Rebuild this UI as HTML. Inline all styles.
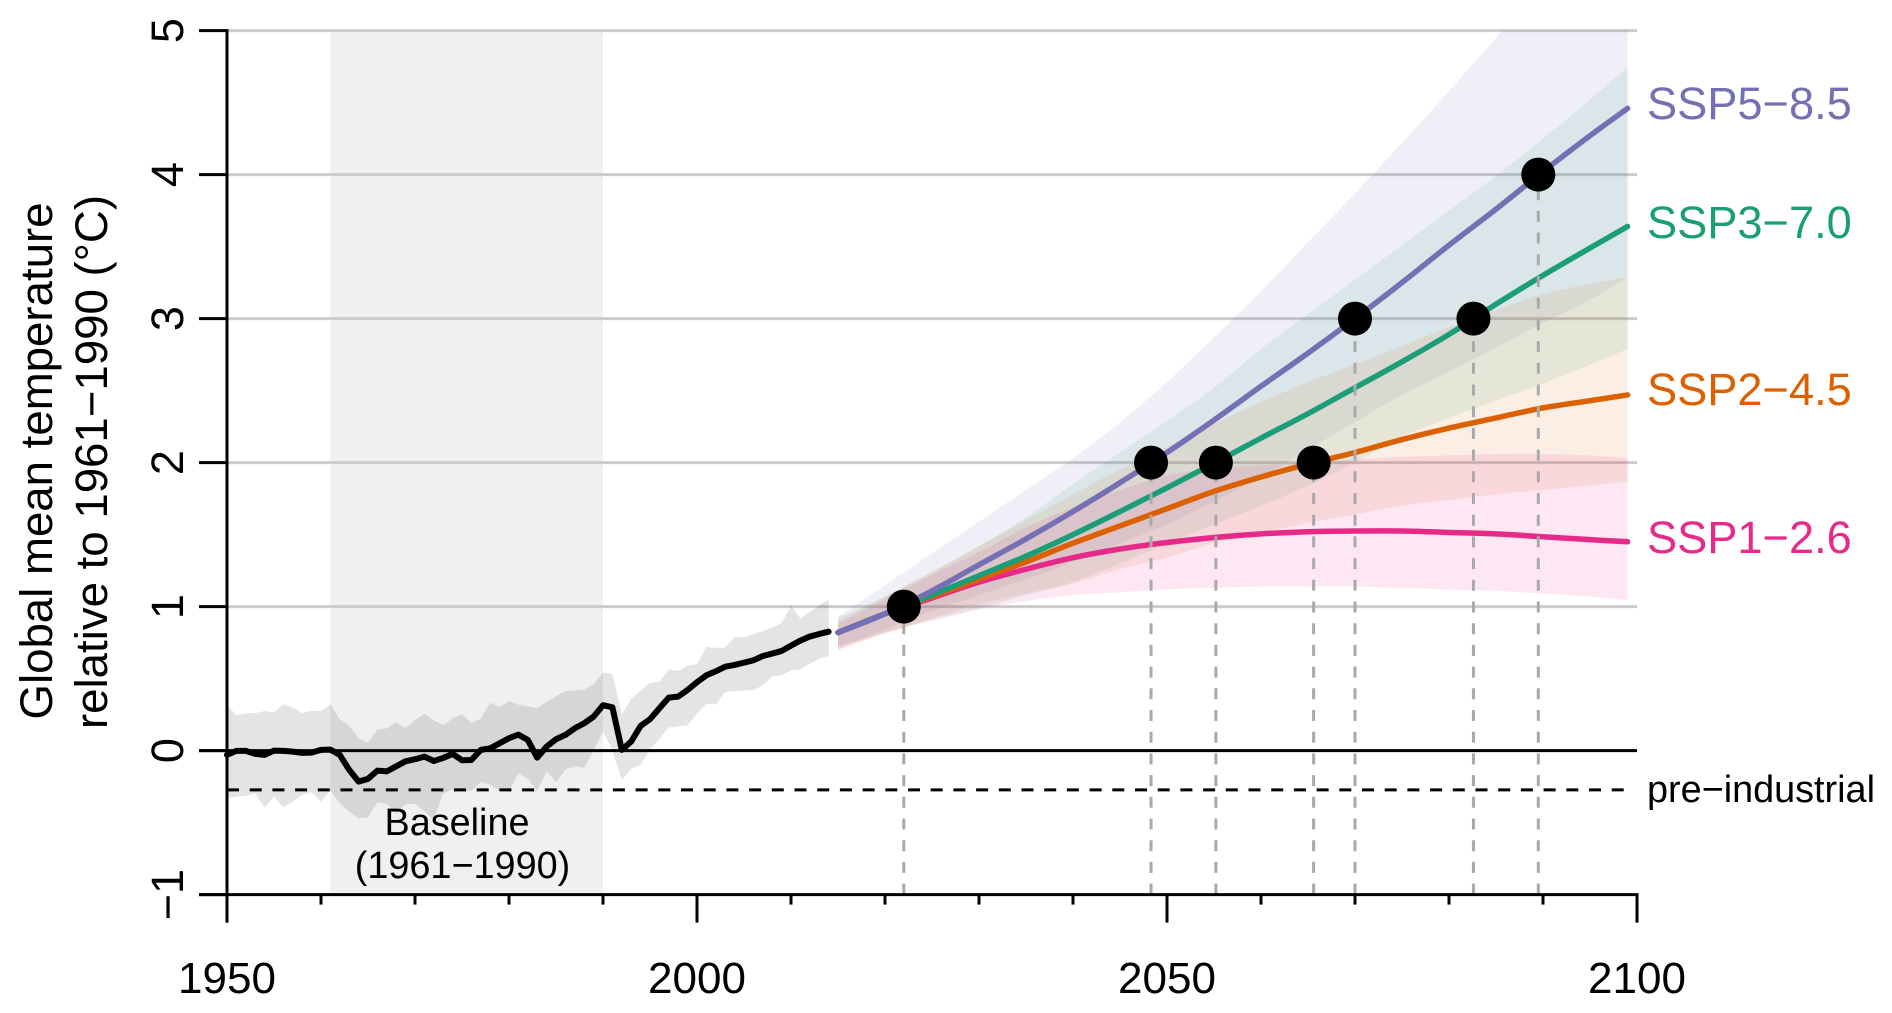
<!DOCTYPE html>
<html lang="en">
<head>
<meta charset="utf-8">
<title>Global mean temperature projections</title>
<style>
html,body{margin:0;padding:0;background:#fff;}
svg{display:block;font-family:"Liberation Sans",Arial,sans-serif;}
</style>
</head>
<body>
<svg id="chart" xmlns="http://www.w3.org/2000/svg" width="1892" height="1013" viewBox="0 0 1892 1013">
  <defs><clipPath id="plot-clip"><rect x="227" y="30" width="1411" height="865"/></clipPath></defs>
</svg>
<script>
// ---------- data ----------
const histStart = 1950;
const histMean = [-0.03,-0.002,-0.002,-0.023,-0.03,0,-0.002,-0.007,-0.016,-0.014,0.005,0.007,-0.03,-0.134,-0.215,-0.196,-0.139,-0.144,-0.109,-0.074,-0.06,-0.042,-0.072,-0.051,-0.023,-0.067,-0.065,0.005,0.016,0.051,0.086,0.111,0.074,-0.049,0.028,0.079,0.109,0.155,0.19,0.236,0.315,0.301,0.005,0.063,0.171,0.218,0.294,0.368,0.375,0.421,0.475,0.523,0.551,0.583,0.595,0.611,0.627,0.657,0.674,0.692,0.729,0.764,0.792,0.81,0.826];
const histUpper = [0.32,0.245,0.26,0.26,0.275,0.266,0.32,0.30,0.26,0.278,0.273,0.32,0.218,0.174,0.086,0.056,0.144,0.155,0.197,0.155,0.213,0.255,0.208,0.178,0.225,0.255,0.194,0.222,0.333,0.30,0.345,0.319,0.308,0.294,0.338,0.377,0.414,0.419,0.424,0.461,0.54,0.535,0.252,0.361,0.414,0.47,0.477,0.565,0.553,0.59,0.60,0.72,0.713,0.715,0.789,0.785,0.81,0.831,0.854,0.887,1.005,0.917,0.963,1.009,1.05];
const histLower = [-0.331,-0.32,-0.315,-0.296,-0.396,-0.32,-0.394,-0.354,-0.308,-0.29,-0.354,-0.278,-0.366,-0.424,-0.47,-0.463,-0.359,-0.37,-0.44,-0.37,-0.37,-0.42,-0.48,-0.30,-0.27,-0.28,-0.28,-0.218,-0.24,-0.275,-0.287,-0.16,-0.194,-0.282,-0.144,-0.218,-0.13,-0.109,-0.12,0,0.13,0.002,-0.206,-0.125,-0.10,0.007,0.083,0.16,0.169,0.176,0.257,0.326,0.322,0.407,0.412,0.419,0.419,0.454,0.516,0.523,0.558,0.565,0.604,0.639,0.657];

const scenarioYears = [2015,2020,2025,2030,2035,2040,2045,2050,2055,2060,2065,2070,2075,2080,2085,2090,2095,2099];
const ssp585 = [0.82,0.95,1.11,1.29,1.47,1.66,1.86,2.07,2.295,2.53,2.76,3.0,3.25,3.51,3.76,4.02,4.27,4.46];
const ssp585Upper = [0.93,1.15,1.37,1.59,1.81,2.03,2.28,2.56,2.87,3.19,3.53,3.87,4.22,4.58,4.95,5.33,5.7,6.0];
const ssp585Lower = [0.72,0.84,0.97,1.08,1.19,1.31,1.44,1.57,1.73,1.90,2.09,2.28,2.47,2.63,2.80,2.97,3.13,3.29];
const ssp370 = [0.82,0.95,1.08,1.215,1.35,1.50,1.66,1.825,1.995,2.17,2.34,2.52,2.70,2.89,3.10,3.30,3.49,3.64];
const ssp370Upper = [0.92,1.07,1.24,1.42,1.62,1.85,2.07,2.29,2.52,2.79,3.03,3.27,3.51,3.75,3.99,4.25,4.52,4.75];
const ssp370Lower = [0.72,0.82,0.91,0.99,1.08,1.17,1.30,1.44,1.57,1.70,1.84,2.00,2.18,2.31,2.43,2.55,2.68,2.79];
const ssp245 = [0.82,0.95,1.07,1.19,1.31,1.44,1.56,1.68,1.80,1.90,1.99,2.07,2.16,2.24,2.31,2.38,2.43,2.47];
const ssp245Upper = [0.90,1.07,1.24,1.42,1.60,1.78,1.95,2.11,2.27,2.42,2.56,2.68,2.81,2.94,3.06,3.17,3.24,3.29];
const ssp245Lower = [0.70,0.81,0.92,1.02,1.09,1.16,1.26,1.34,1.44,1.51,1.58,1.64,1.70,1.74,1.78,1.81,1.84,1.87];
const ssp126 = [0.82,0.95,1.06,1.17,1.26,1.34,1.40,1.445,1.48,1.505,1.52,1.525,1.525,1.515,1.505,1.485,1.465,1.45];
const ssp126Upper = [0.88,1.05,1.22,1.38,1.55,1.69,1.81,1.91,1.96,1.98,2.00,2.02,2.04,2.05,2.06,2.06,2.05,2.03];
const ssp126Lower = [0.70,0.82,0.90,0.98,1.04,1.08,1.10,1.12,1.13,1.14,1.14,1.14,1.13,1.12,1.11,1.09,1.07,1.045];

const crossingYears = [2022,2048.3,2055.2,2065.6,2070,2082.6,2089.5];
const crossingValues = [1,2,2,2,3,3,4];

const yTicks = [-1,0,1,2,3,4,5];
const yTickLabels = ["\u22121","0","1","2","3","4","5"];
const gridValues = [1,2,3,4,5];
const xMajorTicks = [1950,2000,2050,2100];
const xMinorTicks = [1960,1970,1980,1990,2010,2020,2030,2040,2060,2070,2080,2090];
const baselineYears = [1961,1990];
const preIndustrial = [-0.273];

// ---------- axis functions ----------
const X = yr => 227 + (yr - 1950) * 9.4;
const Y = v => 750.6 - v * 144;

const svg = document.getElementById('chart');
const NS = 'http://www.w3.org/2000/svg';
function el(tag, attrs, parent) {
  const n = document.createElementNS(NS, tag);
  for (const k in attrs) n.setAttribute(k, attrs[k]);
  (parent || svg).appendChild(n);
  return n;
}
function pts(years, vals) { return years.map((y, i) => X(y).toFixed(2) + ',' + Y(vals[i]).toFixed(2)).join(' '); }
// smooth curve through data points (Catmull-Rom segments), without the leading move/line command
function curveSegs(years, vals) {
  const p = years.map((y, i) => [X(y), Y(vals[i])]);
  let d = '';
  for (let i = 0; i < p.length - 1; i++) {
    const a = p[Math.max(i - 1, 0)], b = p[i], c = p[i + 1], e = p[Math.min(i + 2, p.length - 1)];
    const c1x = b[0] + (c[0] - a[0]) / 6, c1y = b[1] + (c[1] - a[1]) / 6;
    const c2x = c[0] - (e[0] - b[0]) / 6, c2y = c[1] - (e[1] - b[1]) / 6;
    d += 'C' + c1x.toFixed(2) + ' ' + c1y.toFixed(2) + ' ' + c2x.toFixed(2) + ' ' + c2y.toFixed(2) + ' ' + c[0].toFixed(2) + ' ' + c[1].toFixed(2);
  }
  return d;
}
function curvePath(years, vals) {
  return 'M' + X(years[0]).toFixed(2) + ' ' + Y(vals[0]).toFixed(2) + curveSegs(years, vals);
}
function bandPath(years, upper, lower) {
  const ry = years.slice().reverse(), rl = lower.slice().reverse();
  return curvePath(years, upper) + 'L' + X(ry[0]).toFixed(2) + ' ' + Y(rl[0]).toFixed(2) + curveSegs(ry, rl) + 'Z';
}

const histYears = histMean.map((_, i) => histStart + i);

// baseline period
const baseRect = el('rect', {x: X(baselineYears[0]), y: Y(5), width: X(baselineYears[1]) - X(baselineYears[0]), height: Y(-1) - Y(5), fill: '#f0f0f0'});



// grid lines
gridValues.forEach(v => {
  const g = el('line', {x1: X(1950), x2: X(2100), y1: Y(v), y2: Y(v), stroke: '#cccccc', 'stroke-width': 3});
  
  
});

// historical band
const histBand = el('polygon', {points: pts(histYears, histUpper) + ' ' + pts(histYears.slice().reverse(), histLower.slice().reverse()), fill: 'rgba(0,0,0,0.105)'});



// scenario bands
const bandLayer = el('g', {'clip-path': 'url(#plot-clip)'});


const band585 = el('path', {d: bandPath(scenarioYears, ssp585Upper, ssp585Lower), fill: '#7570b3', 'fill-opacity': 0.11}, bandLayer);


const band370 = el('path', {d: bandPath(scenarioYears, ssp370Upper, ssp370Lower), fill: '#1b9e77', 'fill-opacity': 0.1}, bandLayer);


const band245 = el('path', {d: bandPath(scenarioYears, ssp245Upper, ssp245Lower), fill: '#d95f02', 'fill-opacity': 0.1}, bandLayer);


const band126 = el('path', {d: bandPath(scenarioYears, ssp126Upper, ssp126Lower), fill: '#e7298a', 'fill-opacity': 0.115}, bandLayer);



// zero and pre-industrial reference lines
const zeroLine = el('line', {x1: X(1950) - 28, x2: X(2100), y1: Y(0), y2: Y(0), stroke: '#000', 'stroke-width': 3});


const preLine = el('line', {x1: X(1950), x2: X(2099), y1: Y(preIndustrial[0]), y2: Y(preIndustrial[0]), stroke: '#000', 'stroke-width': 3, 'stroke-dasharray': '12 10.7'});



// historical mean line
const histLine = el('polyline', {points: pts(histYears, histMean), fill: 'none', stroke: '#000', 'stroke-width': 6, 'stroke-linecap': 'round', 'stroke-linejoin': 'round'});



// scenario lines
const line126 = el('path', {d: curvePath(scenarioYears, ssp126), fill: 'none', stroke: '#e7298a', 'stroke-width': 5.5, 'stroke-linecap': 'round', 'stroke-linejoin': 'round'});


const line245 = el('path', {d: curvePath(scenarioYears, ssp245), fill: 'none', stroke: '#dc6000', 'stroke-width': 5.5, 'stroke-linecap': 'round', 'stroke-linejoin': 'round'});


const line370 = el('path', {d: curvePath(scenarioYears, ssp370), fill: 'none', stroke: '#1b9e77', 'stroke-width': 5.5, 'stroke-linecap': 'round', 'stroke-linejoin': 'round'});


const line585 = el('path', {d: curvePath(scenarioYears, ssp585), fill: 'none', stroke: '#7570b3', 'stroke-width': 5.5, 'stroke-linecap': 'round', 'stroke-linejoin': 'round'});



// threshold drop lines
crossingYears.forEach((yr, i) => {
  const d = el('line', {x1: X(yr), x2: X(yr), y1: Y(-1), y2: Y(crossingValues[i]), stroke: '#a9a9a9', 'stroke-width': 3, 'stroke-dasharray': '11 10.7'});
  
  
});
// threshold markers
crossingYears.forEach((yr, i) => {
  const c = el('circle', {cx: X(yr), cy: Y(crossingValues[i]), r: 17, fill: '#000'});
  
  
});

// axes
const yAxis = el('line', {x1: X(1950), x2: X(1950), y1: Y(5) - 1.5, y2: Y(-1) + 28, stroke: '#000', 'stroke-width': 3});


const xAxis = el('line', {x1: X(1950) - 28, x2: X(2100) + 1.5, y1: Y(-1), y2: Y(-1), stroke: '#000', 'stroke-width': 3});



yTicks.forEach((v, i) => {
  const t = el('line', {x1: X(1950) - 28, x2: X(1950), y1: Y(v), y2: Y(v), stroke: '#000', 'stroke-width': 3});
  
  
  const l = el('text', {transform: 'translate(183,' + Y(v) + ') rotate(-90)', 'text-anchor': 'middle', 'font-size': 45, fill: '#000'});
  
  
  l.textContent = yTickLabels[i];
});
xMajorTicks.forEach(yr => {
  const t = el('line', {x1: X(yr), x2: X(yr), y1: Y(-1), y2: Y(-1) + 28, stroke: '#000', 'stroke-width': 3});
  
  
  const l = el('text', {x: X(yr), y: 993, 'text-anchor': 'middle', 'font-size': 44, fill: '#000'});
  
  
  l.textContent = String(yr);
});
xMinorTicks.forEach(yr => {
  const t = el('line', {x1: X(yr), x2: X(yr), y1: Y(-1), y2: Y(-1) + 10, stroke: '#000', 'stroke-width': 3});
  
  
});
</script>
<script>
// static labels
(function () {
  const s = document.getElementById('chart');
  const NS = 'http://www.w3.org/2000/svg';
  function add(txt, attrs) {
    const n = document.createElementNS(NS, 'text');
    for (const k in attrs) n.setAttribute(k, attrs[k]);
    n.textContent = txt;
    s.appendChild(n);
    return n;
  }
  const t1 = add('Global mean temperature', {transform: 'translate(52,461) rotate(-90)', 'text-anchor': 'middle', 'font-size': 45.6, fill: '#000'});
  
  
  const t2 = add('relative to 1961\u22121990 (\u00B0C)', {transform: 'translate(107,462) rotate(-90)', 'text-anchor': 'middle', 'font-size': 45.6, fill: '#000'});
  
  
  const b1 = add('Baseline', {x: 457, y: 835, 'text-anchor': 'middle', 'font-size': 37.8, fill: '#000'});
  
  
  const b2 = add('(1961\u22121990)', {x: 462.5, y: 878, 'text-anchor': 'middle', 'font-size': 37.8, fill: '#000'});
  
  
  const a = add('SSP5\u22128.5', {x: 1647, y: 119, 'font-size': 45.2, fill: '#7570b3'});
  
  
  const b = add('SSP3\u22127.0', {x: 1647, y: 238, 'font-size': 45.2, fill: '#1b9e77'});
  
  
  const c = add('SSP2\u22124.5', {x: 1647, y: 405, 'font-size': 45.2, fill: '#dc6000'});
  
  
  const d = add('SSP1\u22122.6', {x: 1647, y: 553, 'font-size': 45.2, fill: '#e7298a'});
  
  
  const e = add('pre\u2212industrial', {x: 1647, y: 802, 'font-size': 37.8, fill: '#000'});
  
  
})();
</script>
</body>
</html>
